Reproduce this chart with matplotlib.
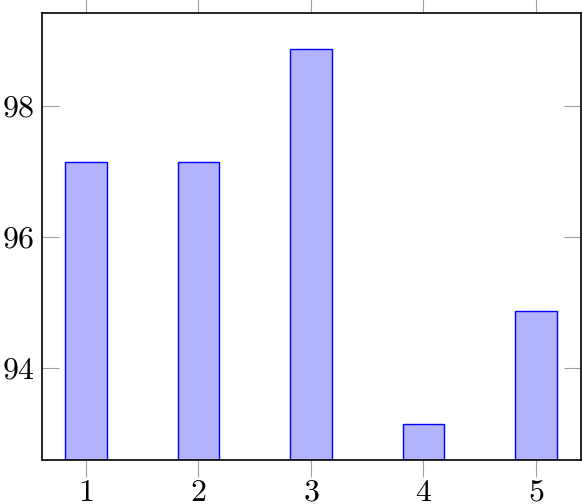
import matplotlib.pyplot as plt

plt.rcParams["font.family"] = "serif"
plt.rcParams["font.serif"] = ["cmr10"]
plt.rcParams["mathtext.fontset"] = "cm"
plt.rcParams["axes.formatter.use_mathtext"] = True

# data
positions = [1, 2, 3, 4, 5]
values = [97.14, 97.14, 98.86, 93.14, 94.86]
yticks = [94, 96, 98]

fig = plt.figure(figsize=(5.82, 5.04), dpi=100)
ax = fig.add_axes([42 / 582, 44 / 504, 539 / 582, 447.5 / 504])

ax.bar(positions, values, width=0.367, bottom=0,
       color="#b3b3ff", edgecolor="#0000ff", linewidth=1.0, zorder=2)

ax.set_xlim(0.61, 5.40)
ax.set_ylim(92.595, 99.42)
ax.set_xticks(positions)
ax.set_xticklabels([f"${p}$" for p in positions])
ax.set_yticks(yticks)
ax.set_yticklabels([f"${t}$" for t in yticks])

ax.tick_params(axis="x", direction="out", length=12, width=0.8, color="#a0a0a0",
               top=True, bottom=True, labelsize=23, pad=2)
ax.tick_params(axis="y", direction="in", length=12, width=0.8, color="#a0a0a0",
               left=True, right=True, labelsize=23, pad=5)

for s in ax.spines.values():
    s.set_linewidth(1.2)
    s.set_color("black")

fig.savefig("out.png", dpi=100)
